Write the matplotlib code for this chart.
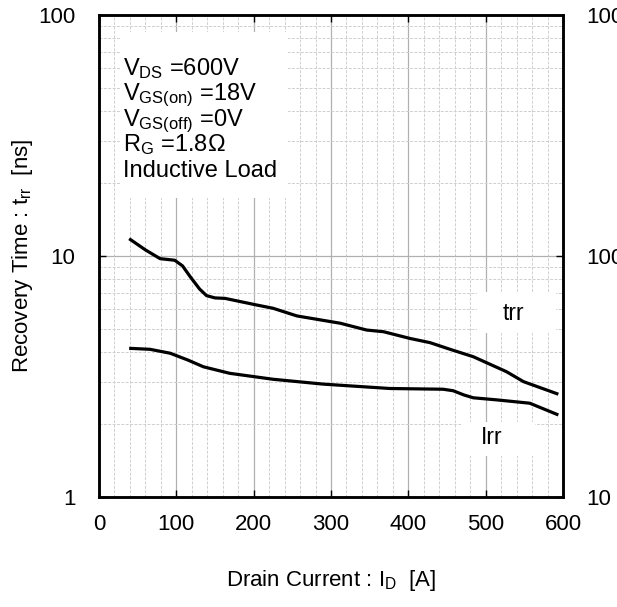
import numpy as np
import matplotlib
matplotlib.use("Agg")
import matplotlib.pyplot as plt
from matplotlib.patches import Rectangle
from matplotlib.ticker import MultipleLocator, LogLocator, FixedLocator

plt.rcParams['font.family'] = ['Liberation Sans', 'DejaVu Sans']
plt.rcParams['mathtext.fontset'] = 'custom'
plt.rcParams['mathtext.rm'] = 'Liberation Sans'
plt.rcParams['mathtext.it'] = 'Liberation Sans:italic'

# trr curve (left axis, ns)
trr_x = [39, 60, 79, 98, 108, 118, 130, 139, 150, 163, 204, 225, 256, 312, 346, 368, 402, 428, 454, 484, 527, 549, 594]
trr_y = [11.8, 10.6, 9.75, 9.6, 9.1, 8.2, 7.3, 6.85, 6.7, 6.67, 6.26, 6.07, 5.64, 5.26, 4.93, 4.85, 4.55, 4.37, 4.10, 3.82, 3.31, 3.01, 2.67]

# Irr curve (right axis, A)
irr_x = [39, 66, 92, 115, 135, 169, 225, 290, 376, 445, 458, 472, 484, 514, 557, 594]
irr_y = [41.4, 41.0, 39.5, 37.0, 34.7, 32.6, 30.8, 29.4, 28.2, 28.0, 27.6, 26.5, 25.8, 25.3, 24.5, 21.9]

cond_lines = [r'V$_{\rm DS}$ =600V', r'V$_{\rm GS(on)}$ =18V', r'V$_{\rm GS(off)}$ =0V',
              r'R$_{\rm G}$ =1.8Ω', 'Inductive Load']

fig = plt.figure(figsize=(6.17, 6.07), dpi=100)
ax = fig.add_axes([99/617, 1 - 497/607, 464/617, 482/607])

ax.set_xlim(0, 600)
ax.set_yscale('log')
ax.set_ylim(1, 100)
ax.xaxis.set_major_locator(MultipleLocator(100))
ax.xaxis.set_minor_locator(MultipleLocator(20))
ax.yaxis.set_major_locator(FixedLocator([1, 10, 100]))
ax.yaxis.set_minor_locator(LogLocator(base=10, subs=np.arange(2, 10)))
ax.set_yticklabels(['1', '10', '100'])
ax.yaxis.set_minor_formatter(plt.NullFormatter())
ax.set_axisbelow(True)
ax.grid(which='major', color='#b0b0b0', lw=0.9, ls='-')
ax.grid(which='minor', color='#cfcfcf', lw=0.7, ls=(0, (3, 1.5)))
ax.tick_params(which='major', direction='in', length=5, width=1, labelsize=16,
               top=True, pad=12)
ax.tick_params(axis='y', which='major', pad=17)
ax.tick_params(which='minor', length=0)
for s in ax.spines.values():
    s.set_linewidth(1.8)

ax.plot(trr_x, trr_y, color='black', lw=2.3, solid_capstyle='butt', zorder=3)

# white boxes behind the labels
ax.add_patch(Rectangle((0.045, 0.620), 0.362, 0.345, transform=ax.transAxes,
                       facecolor='white', edgecolor='none', zorder=1))
ax.add_patch(Rectangle((0.815, 0.340), 0.17, 0.085, transform=ax.transAxes,
                       facecolor='white', edgecolor='none', zorder=1))
ax.add_patch(Rectangle((0.78, 0.085), 0.16, 0.07, transform=ax.transAxes,
                       facecolor='white', edgecolor='none', zorder=1))

for i, t in enumerate(cond_lines):
    ax.text(0.0517, (497 - (75 + 25.5 * i)) / 482, t, transform=ax.transAxes,
            fontsize=17, va='baseline', ha='left', zorder=4)

ax.text((513 - 99) / 464, (497 - 313) / 482, 'trr', transform=ax.transAxes,
        fontsize=16.5, ha='center', va='center', zorder=4)
ax.text((492 - 99) / 464, (497 - 437) / 482, 'Irr', transform=ax.transAxes,
        fontsize=16.5, ha='center', va='center', zorder=4)

ax.set_xlabel('Drain Current : I$_{\\rm D}$  [A]', fontsize=16, labelpad=24)
ax.set_ylabel('Recovery Time : t$_{\\rm rr}$  [ns]', fontsize=16, labelpad=2)

ax2 = ax.twinx()
ax2.set_yscale('log')
ax2.set_ylim(10, 1000)
ax2.yaxis.set_major_locator(FixedLocator([10, 100, 1000]))
ax2.set_yticklabels(['10', '100', '1000'])
ax2.yaxis.set_minor_locator(plt.NullLocator())
ax2.tick_params(which='major', direction='in', length=5, width=1, labelsize=16, pad=17)
ax2.plot(irr_x, irr_y, color='black', lw=2.3, solid_capstyle='butt', zorder=3)
for s in ax2.spines.values():
    s.set_linewidth(1.8)

fig.savefig('out.png', dpi=100)
